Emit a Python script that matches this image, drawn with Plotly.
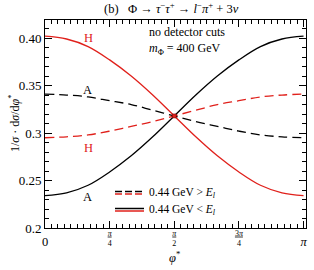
import numpy as np
import plotly.graph_objects as go

# phi* sampled at k*pi/12
phi_k = [0, 1, 2, 3, 4, 5, 6, 7, 8, 9, 10, 11, 12]
H_solid = [0.402, 0.399, 0.391, 0.377, 0.360, 0.340, 0.318, 0.296, 0.276, 0.259, 0.245, 0.237, 0.234]
A_solid = [0.234, 0.237, 0.245, 0.259, 0.276, 0.296, 0.318, 0.340, 0.360, 0.377, 0.391, 0.399, 0.402]
A_dash = [0.341, 0.340, 0.338, 0.334, 0.330, 0.324, 0.318, 0.312, 0.307, 0.302, 0.298, 0.296, 0.295]
H_dash = [0.295, 0.296, 0.298, 0.302, 0.307, 0.312, 0.318, 0.324, 0.330, 0.334, 0.338, 0.340, 0.341]
cross_pt = [6, 0.318]

x_tick_vals = [0, 1, 2, 3, 4]  # in units of pi/4
x_tick_text = ['&nbsp;<br><span style="font-size:12.5px">0</span>',
               "<u><i>π</i></u><br>4", "<u><i>π</i></u><br>2", "<u>3<i>π</i></u><br>4",
               '&nbsp;<br><span style="font-size:12.5px"><i>π</i></span>']
y_tick_vals = [0.2, 0.25, 0.3, 0.35, 0.40]
y_tick_text = ["0.2", "0.25", "0.3", "0.35", "0.40"]

x = np.pi * np.array(phi_k) / 12.0
RED = "#e0201b"
BLK = "#000000"
FONT = "Liberation Serif"
LW = 1.3
DASH = "9px,5px"

fig = go.Figure()
fig.add_trace(go.Scatter(x=x, y=A_dash, mode="lines", line=dict(color=BLK, width=LW, dash=DASH, shape="spline")))
fig.add_trace(go.Scatter(x=x, y=H_dash, mode="lines", line=dict(color=RED, width=LW, dash=DASH, shape="spline")))
fig.add_trace(go.Scatter(x=x, y=A_solid, mode="lines", line=dict(color=BLK, width=LW, shape="spline")))
fig.add_trace(go.Scatter(x=x, y=H_solid, mode="lines", line=dict(color=RED, width=LW, shape="spline")))
fig.add_trace(go.Scatter(x=[np.pi * cross_pt[0] / 12.0], y=[cross_pt[1]], mode="markers",
                         marker=dict(color=RED, size=4, symbol="square", line=dict(color="#600", width=0.5))))

ann = []
def txt(xp, yp, s, color=BLK, size=12, xanchor="left", angle=0):
    ann.append(dict(x=xp, y=yp, xref="paper", yref="paper", text=s, showarrow=False, textangle=angle,
                    xanchor=xanchor, yanchor="middle", borderpad=0,
                    font=dict(family=FONT, size=size, color=color)))

W, H = 314, 270
L, R, T, B = 45, 8, 20, 42
pw, ph = W - L - R, H - T - B
def px(xpix): return (xpix - L) / pw
def py(ypix): return 1 - (ypix - T) / ph

txt(px(103), py(9), "(b)", size=12.5)
txt(px(127), py(8), "Φ → <i>τ</i><sup>−</sup><i>τ</i><sup>+</sup> → <i>l</i><sup>−</sup><i>π</i><sup>+</sup> + 3<i>ν</i>", size=12.5)
txt(px(148), py(32), "no detector cuts", size=12)
txt(px(148), py(49), "<i>m</i><sub>Φ</sub> = 400 GeV", size=12)
txt(px(88), py(38), "H", color=RED, size=12.5, xanchor="center")
txt(px(87), py(90), "A", size=12.5, xanchor="center")
txt(px(88), py(148), "H", color=RED, size=12.5, xanchor="center")
txt(px(87), py(197), "A", size=12.5, xanchor="center")
txt(px(148), py(193), "0.44 GeV &gt; <i>E<sub>l</sub></i>", size=11.5)
txt(px(148), py(210), "0.44 GeV &lt; <i>E<sub>l</sub></i>", size=11.5)
txt(px(174), py(257), "<i>φ</i><sup>*</sup>", size=12.5, xanchor="center")
txt(px(14), py(124), "1/<i>σ</i> · d<i>σ</i>/d<i>φ</i><sup>*</sup>", size=12, xanchor="center", angle=-90)

shapes = []
def seg(x0, x1, yp, color, dash=None):
    shapes.append(dict(type="line", xref="paper", yref="paper", x0=px(x0), x1=px(x1), y0=py(yp), y1=py(yp),
                       line=dict(color=color, width=1.5, dash=dash)))
seg(115, 144, 191.5, BLK, "7px,3px")
seg(115, 144, 194, RED, "7px,3px")
seg(115, 144, 208.5, BLK)
seg(115, 144, 211, RED)

fig.update_layout(
    width=W, height=H, margin=dict(l=L, r=R, t=T, b=B, autoexpand=False),
    paper_bgcolor="white", plot_bgcolor="white", showlegend=False,
    font=dict(family=FONT, size=12, color=BLK),
    annotations=ann, shapes=shapes,
    xaxis=dict(range=[0, np.pi + 0.03], tickvals=[v * np.pi / 4 for v in x_tick_vals], ticktext=x_tick_text,
               ticks="inside", ticklen=7, tickwidth=1, tickcolor=BLK, mirror="allticks", showline=True,
               linecolor=BLK, linewidth=1, showgrid=False, zeroline=False, tickfont=dict(size=8),
               automargin=False, ticklabeloverflow="allow", ticklabelstandoff=-3,
               minor=dict(ticks="inside", ticklen=4, dtick=np.pi / 40, tick0=0, tickcolor=BLK, showgrid=False)),
    yaxis=dict(range=[0.2, 0.419], tickvals=y_tick_vals, ticktext=y_tick_text,
               ticks="inside", ticklen=7, tickwidth=1, tickcolor=BLK, mirror="allticks", showline=True,
               linecolor=BLK, linewidth=1, showgrid=False, zeroline=False, tickfont=dict(size=13),
               automargin=False,
               minor=dict(ticks="inside", ticklen=4, dtick=0.01, tick0=0.2, tickcolor=BLK, showgrid=False)),
)
fig.write_html("out.html", config={"displayModeBar": False},
               post_script="document.body.style.margin='0';document.body.style.padding='0';")
